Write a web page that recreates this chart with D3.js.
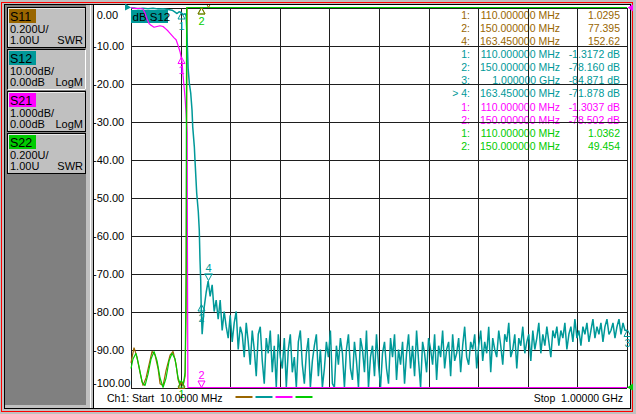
<!DOCTYPE html>
<html lang="en">
<head>
<meta charset="utf-8">
<title>Ch1 S-parameters</title>
<script src="https://d3js.org/d3.v7.min.js"></script>
<style>
  body { margin: 0; background: #c0c0c0; }
  svg { display: block; font-family: "Liberation Sans", Arial, sans-serif; }
</style>
</head>
<body>
<script>
// sweep (MHz)
const startMHz = 10;
const stopMHz = 1000;
const xTicks = [10, 109, 208, 307, 406, 505, 604, 703, 802, 901, 1000];
const yTicks = [0, -10, -20, -30, -40, -50, -60, -70, -80, -90, -100];

// trace setup shown in the left panel
const traceNames = ['S11', 'S12', 'S21', 'S22'];
const tracePerDiv = ['0.200U/', '10.00dB/', '1.000dB/', '0.200U/'];
const traceRefs = ['1.00U', '0.00dB', '0.00dB', '1.00U'];
const traceFormats = ['SWR', 'LogM', 'LogM', 'SWR'];

// S11, SWR
const s11Freq = [10, 16, 22, 28, 34, 40, 46, 52, 58, 64, 68, 74, 80, 88, 94, 100, 104, 108, 110, 114, 118, 120, 122, 150, 163.45, 1000];
const s11Swr = [1.13, 1.21, 1.16, 1.08, 1.01, 1.05, 1.12, 1.19, 1.17, 1.10, 1.02, 1.01, 1.09, 1.17, 1.19, 1.12, 1.04, 1.01, 1.0295, 1.01, 1.06, 1.40, 3.50, 77.395, 152.62, 60];

// S22, SWR
const s22Freq = [10, 14, 20, 26, 32, 38, 44, 50, 56, 62, 68, 74, 80, 86, 92, 98, 104, 108, 110, 114, 118, 120, 121, 150, 1000];
const s22Swr = [1.10, 1.15, 1.18, 1.11, 1.03, 1.01, 1.07, 1.15, 1.19, 1.14, 1.05, 1.00, 1.05, 1.14, 1.18, 1.15, 1.05, 1.02, 1.0362, 1.01, 1.08, 1.6, 3.5, 49.454, 40];

// S21, dB
const s21Freq = [10, 18, 26, 34, 38, 42, 46, 50, 56, 62, 68, 74, 80, 84, 88, 92, 96, 100, 104, 108, 110, 112, 114, 116, 118, 120, 122, 123.5, 150, 163.45, 1000];
const s21Db = [0, -0.03, -0.02, -0.04, -0.15, -0.3, -0.42, -0.47, -0.52, -0.5, -0.48, -0.5, -0.57, -0.62, -0.68, -0.74, -0.8, -0.85, -1.0, -1.17, -1.3037, -1.45, -1.8, -2.1, -2.4, -2.8, -3.3, -40, -78.502, -71.9, -85];

// S12, dB (passband and skirt)
const s12Freq = [10, 16, 24, 34, 44, 54, 64, 74, 84, 92, 98, 102, 106, 110, 114, 118, 120, 122, 124, 126.4, 129.2, 131.8, 133.2, 136.4, 137.7, 141.1, 144.3, 146.3, 147.7, 149.1, 150];
const s12Db = [-0.2, -0.1, -0.3, -0.2, -0.3, -0.2, -0.4, -0.3, -0.5, -0.7, -1.2, -1.6, -1.1, -1.3172, -1.9, -1.6, -2.2, -8, -16, -19.9, -22.5, -27, -31.4, -36.6, -40.1, -48.8, -53.7, -58.6, -66.4, -71.7, -78.16];

// S12 stopband, swept 152 .. 1000 MHz
const s12NoiseStart = 152;
const s12NoiseStop = 1000;
const s12NoiseDb = [
  -86, -79, -75, -72, -76, -73, -80, -77,
  -82, -77, -85, -80, -84, -87, -81, -88, -83, -80, -90, -84, -86, -92, -83,
  -88, -94, -85, -90, -97, -86, -84, -93, -99, -87, -91, -85, -96, -89, -100, -86, -92, -95, -87, -101,
  -90, -86, -96, -92, -100, -88, -85, -94, -99, -91,
  -87, -102, -93, -89, -86, -97, -90, -101, -95, -88,
  -92, -85, -99, -100, -89, -94, -87, -91, -103, -90,
  -86, -95, -98, -88, -93, -101, -87, -90, -96, -85,
  -100, -92, -89, -97, -86, -94, -102, -91, -88, -95,
  -99, -87, -92, -86, -98,
  -90, -94, -88, -99, -91, -86, -95, -89, -97, -85,
  -93, -100, -88, -91, -96, -87, -90, -94, -86, -98,
  -89, -92, -85, -95, -90, -88, -97, -86, -93, -91,
  -87, -96, -89, -84, -92, -94, -88, -90, -86, -95,
  -89, -85, -93, -88, -91, -84, -96, -87, -90, -92,
  -85, -89, -94, -86, -88, -83, -92, -90, -86, -95,
  -87, -89, -84, -91, -88, -86, -93, -85, -90, -87,
  -83, -91, -86, -89, -84, -88, -92, -85, -87, -84,
  -89, -85, -87, -83, -90, -86, -84, -88, -82, -87,
  -85, -89, -84, -86, -83, -88, -85, -82, -87, -84,
  -86, -83, -88, -84, -82, -86, -85, -83, -87, -84,
  -82, -86, -83, -85, -84.9
];

// markers: [number, MHz, value]
const s11Markers = [['1', 110, 1.0295], ['2', 150, 77.395], ['4', 163.45, 152.62]];
const s12Markers = [['1', 110, -1.3172], ['2', 150, -78.160], ['3', 1000, -84.871], ['4', 163.45, -71.878]];
const s21Markers = [['1', 110, -1.3037], ['2', 150, -78.502]];
const s22Markers = [['1', 110, 1.0362], ['2', 150, 49.454]];
const activeTrace = 'S12';
const activeMarker = '4';

const w = 636;
const h = 414;
const plotLeft = 131;
const plotRight = 627;
const plotTop = 7.5;
const plotBottom = 387.5;

const colors = { S11: '#996600', S12: '#009999', S21: '#ff00ff', S22: '#00cc00' };

const loc = d3.formatLocale({ decimal: '.', thousands: ',', grouping: [3], currency: ['', ''], minus: '-' });
const fmtVal = loc.format('.5g');
const fmtAxis = loc.format('.2f');
const fmtFreq = f => f >= 1000 ? (f / 1000).toFixed(6) + ' GHz' : f.toFixed(6) + ' MHz';

const svg = d3.select('body')
              .append('svg')
              .attr('width', w)
              .attr('height', h);

// window frame
svg.append('rect').attr('width', w).attr('height', h).attr('fill', '#c0c0c0');
svg.append('rect').attr('x', 93).attr('y', 5).attr('width', 537).attr('height', 403).attr('fill', '#fff');
svg.append('rect').attr('x', 5).attr('y', 5).attr('width', 81).attr('height', 400).attr('fill', '#808080');
svg.append('line').attr('x1', 93.5).attr('x2', 93.5).attr('y1', 5).attr('y2', 408).attr('stroke', '#000');
svg.append('line').attr('x1', 90.5).attr('x2', 90.5).attr('y1', 5).attr('y2', 408).attr('stroke', '#fff');
svg.append('rect').attr('x', 4.5).attr('y', 4.5).attr('width', 626).attr('height', 404)
   .attr('fill', 'none').attr('stroke', '#000');
svg.append('rect').attr('x', 1.5).attr('y', 2.5).attr('width', 631).attr('height', 409)
   .attr('fill', 'none').attr('stroke', '#ff0000');

// left panel buttons
const btnTop = [7, 49, 91, 133];
const panel = svg.append('g');
traceNames.forEach((name, i) => {
    const y0 = btnTop[i];
    const g = panel.append('g');
    g.append('rect').attr('x', 7.5).attr('y', y0 + 0.5).attr('width', 78).attr('height', 40)
     .attr('fill', '#c0c0c0').attr('stroke', '#000');
    if (name === activeTrace) {
        g.append('path').attr('d', `M85.5,${y0 + 0.5}V${y0 + 40.5}H7.5`).attr('fill', 'none').attr('stroke', '#fff');
    } else {
        g.append('path').attr('d', `M8.5,${y0 + 39.5}V${y0 + 1.5}H84.5`).attr('fill', 'none').attr('stroke', '#e8e8e8');
    }
    g.append('rect').attr('x', 9).attr('y', y0 + 2).attr('width', 27).attr('height', 14).attr('fill', colors[name]);
    g.append('text').text(name).attr('x', 10).attr('y', y0 + 13.5).attr('font-size', 12.5).attr('fill', '#000');
    g.append('text').text(tracePerDiv[i]).attr('x', 10).attr('y', y0 + 25.5).attr('font-size', 11);
    g.append('text').text(traceRefs[i]).attr('x', 10).attr('y', y0 + 36.5).attr('font-size', 11);
    g.append('text').text(traceFormats[i]).attr('x', 83).attr('y', y0 + 36.5).attr('font-size', 11)
     .attr('text-anchor', 'end');
});

// scales
const x = d3.scaleLinear().domain([startMHz, stopMHz]).range([plotLeft, plotRight]);
const yDb = d3.scaleLinear().domain([-100, 0]).range([plotBottom, plotTop]).clamp(true);
const yFine = d3.scaleLinear().domain([-10, 0]).range([plotBottom, plotTop]).clamp(true);
const ySwr = d3.scaleLinear().domain([1, 3]).range([plotBottom, plotTop]).clamp(true);

// marker table
const traces = [
    { name: 'S11', y: ySwr, freq: s11Freq, vals: s11Swr, markers: s11Markers, unit: '' },
    { name: 'S12', y: yDb, freq: s12Freq, vals: s12Db, markers: s12Markers, unit: ' dB' },
    { name: 'S21', y: yFine, freq: s21Freq, vals: s21Db, markers: s21Markers, unit: ' dB' },
    { name: 'S22', y: ySwr, freq: s22Freq, vals: s22Swr, markers: s22Markers, unit: '' }
];
const table = svg.append('g').attr('font-size', 10.5);
let row = 0;
traces.forEach(t => {
    t.markers.forEach(m => {
        const yb = 18.8 + row * 13.1;
        const idx = (t.name === activeTrace && m[0] === activeMarker ? '> ' : '') + m[0] + ':';
        table.append('text').text(idx).attr('x', 470).attr('y', yb).attr('text-anchor', 'end').attr('fill', colors[t.name]);
        table.append('text').text(fmtFreq(m[1])).attr('x', 560).attr('y', yb).attr('text-anchor', 'end').attr('fill', colors[t.name]);
        table.append('text').text(fmtVal(m[2]) + t.unit).attr('x', 620).attr('y', yb).attr('text-anchor', 'end').attr('fill', colors[t.name]);
        row++;
    });
});

// grid
const xGrid = svg.append('g')
                 .attr('transform', 'translate(0,' + plotBottom + ')')
                 .call(d3.axisBottom(x).tickValues(xTicks).tickSize(-(plotBottom - plotTop)).tickSizeOuter(0).tickFormat(''));
const yGrid = svg.append('g')
                 .attr('transform', 'translate(' + plotLeft + ',0)')
                 .call(d3.axisLeft(yDb).tickValues(yTicks).tickSize(-(plotRight - plotLeft)).tickSizeOuter(0).tickFormat(''));
[xGrid, yGrid].forEach(g => {
    g.select('.domain').remove();
    g.selectAll('line').attr('stroke', '#1e1e1e').attr('shape-rendering', 'crispEdges');
});

// y labels (active trace S12)
const yAxis = svg.append('g')
                 .attr('transform', 'translate(93,0)')
                 .call(d3.axisRight(yDb).tickValues(yTicks).tickSize(0).tickPadding(0).tickFormat(fmtAxis));
yAxis.select('.domain').remove();
yAxis.selectAll('text')
     .attr('font-size', 11)
     .attr('font-family', '"Liberation Sans", Arial, sans-serif')
     .attr('fill', '#000')
     .attr('x', d => d >= 0 ? 3.7 : 0)
     .attr('dy', d => d === 0 ? '1.0em' : d === -100 ? '-0.08em' : '0.34em');

// reference position arrows
svg.append('path').attr('d', `M${plotLeft},${plotTop}L${plotLeft - 6},${plotTop - 4}V${plotTop + 3}Z`).attr('fill', colors.S12);
svg.append('path').attr('d', `M${plotRight + 0.5},${plotTop}L${plotRight + 6},${plotTop - 3}V${plotTop + 4}Z`).attr('fill', colors.S21);
svg.append('path').attr('d', `M${plotRight},${plotBottom}L${plotRight + 6},${plotBottom - 4}V${plotBottom + 3}Z`).attr('fill', colors.S22);

// active trace tag
svg.append('rect').attr('x', 131).attr('y', 10).attr('width', 37).attr('height', 13).attr('fill', colors.S12);
svg.append('text').text('dB S12').attr('x', 132.5).attr('y', 20.5).attr('font-size', 11.5).attr('fill', '#000');

// traces
const s12All = s12Freq.map((f, i) => [f, s12Db[i]])
    .concat(s12NoiseDb.map((v, i) => [s12NoiseStart + i * (s12NoiseStop - s12NoiseStart) / (s12NoiseDb.length - 1), v]));
traces.forEach(t => {
    const pts = t.name === 'S12' ? s12All : t.freq.map((f, i) => [f, t.vals[i]]);
    const line = d3.line().x(d => x(d[0])).y(d => t.y(d[1]));
    svg.append('path')
       .datum(pts)
       .attr('d', line)
       .attr('fill', 'none')
       .attr('stroke', colors[t.name])
       .attr('stroke-width', t.name === 'S12' ? 1.5 : 1.2)
       .attr('stroke-linejoin', 'bevel');
});

// markers
svg.append('clipPath').attr('id', 'win')
   .append('rect').attr('x', 94).attr('y', 5).attr('width', 536).attr('height', 403);
const mk = svg.append('g').attr('clip-path', 'url(#win)');
const placed = [];
const addLabel = (txt, px, py, color) => {
    // skip labels outside the window or sitting on an identical one
    if (py < 14 || placed.some(p => p[0] === txt && Math.abs(p[1] - px) < 3 && Math.abs(p[2] - py) < 3)) return;
    placed.push([txt, px, py]);
    mk.append('text').text(txt).attr('x', px).attr('y', py).attr('text-anchor', 'middle')
      .attr('font-size', 11).attr('fill', color);
};
['S21', 'S12', 'S22', 'S11'].forEach(name => {
    const t = traces.find(d => d.name === name);
    const [lo, hi] = t.y.domain();
    t.markers.forEach(m => {
        const px = Math.round(x(m[1])) + 0.5;
        const py = t.y(m[2]);
        const down = m[0] === activeMarker || m[2] < lo;
        if (down) {
            mk.append('path')
              .attr('d', `M${px},${py}L${px - 3.5},${py - 6.5}L${px + 3.5},${py - 6.5}Z` + (m[0] === activeMarker ? `M${px - 4.5},${py - 6.5}H${px + 4.5}` : ''))
              .attr('fill', 'none').attr('stroke', colors[name]);
            addLabel(m[0], px, py - 9, colors[name]);
        } else {
            mk.append('path')
              .attr('d', `M${px},${py}L${px - 3.5},${py + 6.5}L${px + 3.5},${py + 6.5}Z`)
              .attr('fill', 'none').attr('stroke', colors[name]);
            addLabel(m[0], px, py + 17, colors[name]);
        }
    });
});

// footer
svg.append('text').text('Ch1: Start  10.0000 MHz').attr('x', 107).attr('y', 401.5)
   .attr('font-size', 10.5).style('white-space', 'pre');
svg.append('text').text('Stop  1.00000 GHz').attr('x', 623).attr('y', 401.5)
   .attr('font-size', 10.5).attr('text-anchor', 'end').style('white-space', 'pre');
traceNames.forEach((name, i) => {
    svg.append('line')
       .attr('x1', 235.5 + i * 20).attr('x2', 252.5 + i * 20)
       .attr('y1', 397).attr('y2', 397)
       .attr('stroke', colors[name]).attr('stroke-width', 2);
});
</script>
</body>
</html>
